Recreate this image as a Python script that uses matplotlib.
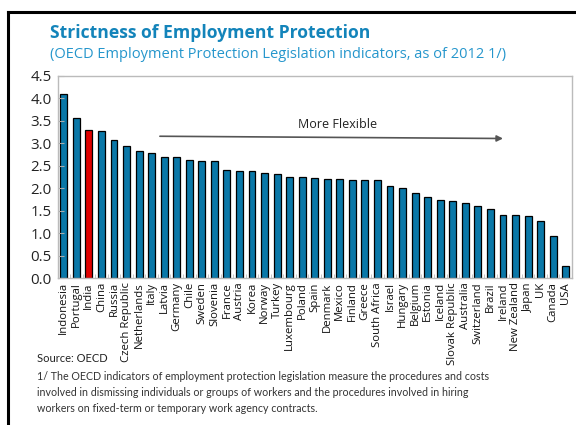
import matplotlib
matplotlib.use("Agg")
import matplotlib.pyplot as plt
from matplotlib.lines import Line2D

countries = ["Indonesia", "Portugal", "India", "China", "Russia", "Czech Republic",
             "Netherlands", "Italy", "Latvia", "Germany", "Chile", "Sweden", "Slovenia",
             "France", "Austria", "Korea", "Norway", "Turkey", "Luxembourg", "Poland",
             "Spain", "Denmark", "Mexico", "Finland", "Greece", "South Africa", "Israel",
             "Hungary", "Belgium", "Estonia", "Iceland", "Slovak Republic", "Australia",
             "Switzerland", "Brazil", "Ireland", "New Zealand", "Japan", "UK", "Canada", "USA"]
values = [4.08, 3.56, 3.29, 3.27, 3.07, 2.93, 2.83, 2.77, 2.68, 2.68, 2.63, 2.61, 2.60,
          2.39, 2.38, 2.38, 2.33, 2.31, 2.25, 2.24, 2.22, 2.21, 2.20, 2.17, 2.17, 2.17,
          2.04, 2.01, 1.90, 1.81, 1.73, 1.72, 1.67, 1.61, 1.53, 1.41, 1.39, 1.38, 1.27,
          0.93, 0.27]
highlight = "India"
yticks = [0.0, 0.5, 1.0, 1.5, 2.0, 2.5, 3.0, 3.5, 4.0, 4.5]

BLUE = "#0a78a8"
RED = "#e00000"
TITLE = "#1384ba"
SUB = "#2596cc"
W, H = 576, 425

plt.rcParams['font.family'] = ['Open Sans', 'DejaVu Sans']
fig = plt.figure(figsize=(W / 100, H / 100), dpi=100)
ax = fig.add_axes([57.5 / W, 1 - 278 / H, (572 - 57.5) / W, (278 - 75.5) / H])

x = list(range(len(countries)))
colors = [RED if c == highlight else BLUE for c in countries]
ax.bar(x, values, width=0.55, color=colors, edgecolor="black", linewidth=0.9)

ax.set_xlim(-0.5, len(countries) - 0.5)
ax.set_ylim(0, 4.5)
ax.set_yticks(yticks)
ax.set_yticklabels([f"{v:.1f}" for v in yticks], fontsize=10.8, color="#222222")
ax.set_xticks(x)
ax.set_xticklabels(countries, rotation=90, fontsize=8.2, color="#111111")
ax.tick_params(axis="x", length=0, pad=3)
ax.tick_params(axis="y", direction="in", length=4, color="#aaaaaa", pad=4)
ax.set_xticks([i + 0.5 for i in x[:-1]], minor=True)
ax.tick_params(axis="x", which="minor", direction="in", length=3, color="#bbbbbb")
for s in ax.spines.values():
    s.set_color("#bbbbbb")
    s.set_linewidth(1.0)

# arrow annotation
ax.annotate("", xy=(35.0, 3.10), xytext=(7.66, 3.15),
            arrowprops=dict(arrowstyle="-|>", color="#555555", lw=1.2,
                            mutation_scale=9, shrinkA=0, shrinkB=0))
ax.text(21.8, 3.42, "More Flexible", ha="center", va="center", fontsize=9, color="#222222")

# titles
fig.text(50 / W, 1 - 33 / H, "Strictness of Employment Protection", fontsize=12.6,
         fontweight="bold", color=TITLE, ha="left", va="center")
fig.text(50 / W, 1 - 55 / H,
         "(OECD Employment Protection Legislation indicators, as of 2012 1/)",
         fontsize=10.5, color=SUB, ha="left", va="center")

# footnotes
fig.text(37 / W, 1 - 358 / H, "Source: OECD", fontsize=8, color="#222222",
         ha="left", va="center", family=["Lato", "DejaVu Sans"])
notes = ["1/ The OECD indicators of employment protection legislation measure the procedures and costs",
         "involved in dismissing individuals or groups of workers and the procedures involved in hiring",
         "workers on fixed-term or temporary work agency contracts."]
for i, line in enumerate(notes):
    fig.text(37 / W, 1 - (377 + 16 * i) / H, line, fontsize=7.7, color="#333333",
             ha="left", va="center", family=["Lato", "DejaVu Sans"])

# frame lines (left and top)
fig.add_artist(Line2D([8 / W, 8 / W], [0, 1 - 12 / H], color="black", lw=2.2,
                      transform=fig.transFigure))
fig.add_artist(Line2D([8 / W, 1], [1 - 12 / H, 1 - 12 / H], color="black", lw=2.2,
                      transform=fig.transFigure))

fig.savefig("out.png", dpi=100)
